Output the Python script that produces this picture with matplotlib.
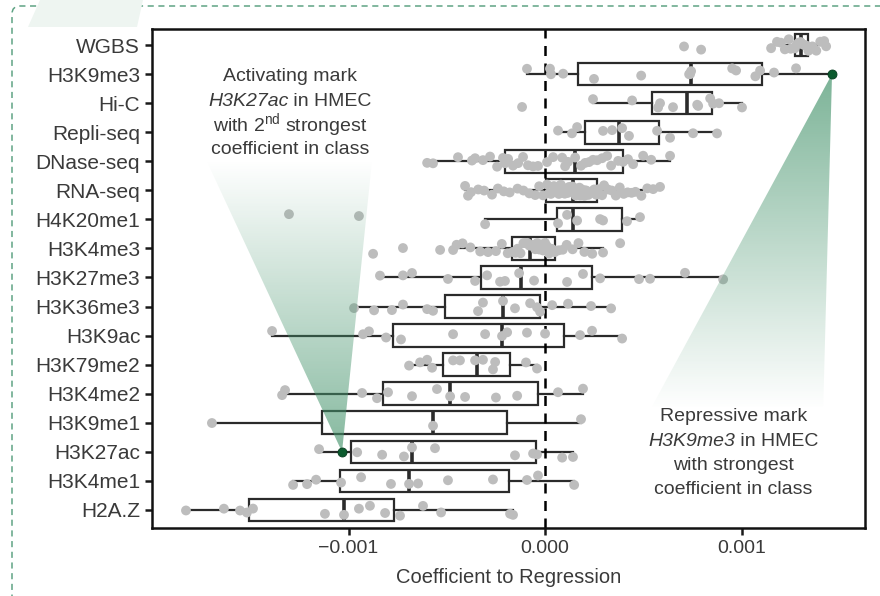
import numpy as np
import matplotlib
matplotlib.use("Agg")
import matplotlib.pyplot as plt
from matplotlib.patches import Polygon, FancyBboxPatch
from matplotlib.offsetbox import TextArea, HPacker, AnnotationBbox

plt.rcParams['font.family'] = ['Liberation Sans', 'DejaVu Sans']
plt.rcParams['mathtext.fontset'] = 'custom'
plt.rcParams['mathtext.rm'] = 'Liberation Sans'
plt.rcParams['mathtext.it'] = 'Liberation Sans:italic'

# categories (top to bottom)
marks = ["WGBS", "H3K9me3", "Hi-C", "Repli-seq", "DNase-seq", "RNA-seq", "H4K20me1",
         "H3K4me3", "H3K27me3", "H3K36me3", "H3K9ac", "H3K79me2", "H3K4me2",
         "H3K9me1", "H3K27ac", "H3K4me1", "H2A.Z"]

# box statistics, in units of 1e-3
whislo = [1.15, -0.092, 0.244, 0.066, -0.600, -0.407, -0.305, -0.468, -0.840, -0.962,
          -1.389, -0.692, -1.333, -1.695, -1.150, -1.282, -1.827]
q1 = [1.272, 0.168, 0.545, 0.204, -0.204, 0.005, 0.061, -0.168, -0.326, -0.509,
      -0.774, -0.519, -0.824, -1.135, -0.987, -1.043, -1.506]
med = [1.303, 0.743, 0.722, 0.377, 0.153, 0.143, 0.143, -0.076, -0.122, -0.214,
       -0.219, -0.346, -0.483, -0.570, -0.677, -0.692, -1.023]
q3 = [1.338, 1.104, 0.850, 0.580, 0.397, 0.265, 0.392, 0.051, 0.239, -0.025,
      0.097, -0.178, -0.036, -0.193, -0.046, -0.183, -0.768]
whishi = [1.43, 1.46, 1.002, 0.875, 0.636, 0.585, 0.483, 0.295, 0.906, 0.336,
          0.392, -0.041, 0.193, 0.183, 0.142, 0.148, -0.163]

# individual points, in units of 1e-3
pts_wgbs = [0.707, 0.794, 1.15, 1.18, 1.20, 1.22, 1.24, 1.25, 1.27, 1.28, 1.29, 1.30, 1.30,
            1.31, 1.32, 1.33, 1.34, 1.35, 1.36, 1.38, 1.40, 1.42, 1.43]
pts_h3k9me3 = [-0.092, 0.025, 0.030, 0.092, 0.249, 0.489, 0.733, 0.738, 0.743, 0.952, 0.972,
               1.07, 1.094, 1.165, 1.277]
pts_hic = [-0.117, 0.244, 0.443, 0.575, 0.585, 0.651, 0.774, 0.779, 0.840, 0.855, 0.885, 1.002]
pts_repli = [0.066, 0.137, 0.163, 0.295, 0.341, 0.392, 0.427, 0.570, 0.636, 0.753, 0.875]
pts_dnase = [-0.600, -0.570, -0.443, -0.372, -0.356, -0.316, -0.280, -0.244, -0.214, -0.204,
             -0.188, -0.163, -0.137, -0.112, -0.087, -0.061, -0.036, 0.010, 0.041, 0.087,
             0.102, 0.117, 0.153, 0.183, 0.204, 0.224, 0.244, 0.265, 0.290, 0.316, 0.336,
             0.372, 0.397, 0.422, 0.448, 0.499, 0.540, 0.636]
pts_rna = [-0.407, -0.392, -0.377, -0.34, -0.31, -0.27, -0.24, -0.21, -0.18, -0.14, -0.11,
           -0.08, -0.05, -0.03, -0.01, 0.01, 0.02, 0.03, 0.045, 0.06, 0.07, 0.08, 0.09, 0.10,
           0.11, 0.115, 0.12, 0.13, 0.135, 0.14, 0.15, 0.155, 0.16, 0.17, 0.175, 0.18, 0.19,
           0.20, 0.205, 0.21, 0.22, 0.23, 0.24, 0.25, 0.26, 0.27, 0.29, 0.30, 0.32, 0.34,
           0.36, 0.38, 0.40, 0.42, 0.44, 0.46, 0.49, 0.52, 0.55, 0.585]
pts_h4k20 = [-1.303, -0.947, -0.305, 0.066, 0.112, 0.163, 0.280, 0.295, 0.417, 0.483]
pts_h3k4me3 = [-0.875, -0.723, -0.534, -0.468, -0.45, -0.42, -0.38, -0.33, -0.29, -0.25,
               -0.22, -0.19, -0.165, -0.15, -0.14, -0.125, -0.11, -0.10, -0.09, -0.08,
               -0.07, -0.06, -0.05, -0.04, -0.03, -0.02, -0.01, 0.0, 0.01, 0.02, 0.035,
               0.05, 0.07, 0.09, 0.11, 0.14, 0.17, 0.20, 0.24, 0.295, 0.382]
pts_h3k27me3 = [-0.840, -0.723, -0.677, -0.494, -0.356, -0.295, -0.229, -0.204, -0.132,
                -0.056, 0.112, 0.193, 0.280, 0.478, 0.534, 0.712, 0.906]
pts_h3k36me3 = [-0.972, -0.870, -0.779, -0.723, -0.600, -0.570, -0.341, -0.316, -0.214,
                -0.153, -0.076, -0.041, -0.025, 0.036, 0.117, 0.234, 0.336]
pts_h3k9ac = [-1.389, -0.926, -0.896, -0.809, -0.733, -0.468, -0.305, -0.219, -0.193,
              -0.092, 0.0, 0.178, 0.239, 0.392]
pts_h3k79me2 = [-0.692, -0.636, -0.600, -0.575, -0.468, -0.433, -0.356, -0.316, -0.265,
                -0.254, -0.097, -0.041]
pts_h3k4me2 = [-1.338, -1.323, -0.931, -0.855, -0.799, -0.677, -0.550, -0.483, -0.407,
               -0.250, -0.142, 0.066, 0.193]
pts_h3k9me1 = [-1.695, -0.570, 0.183]
pts_h3k27ac = [-1.150, -0.956, -0.829, -0.718, -0.677, -0.560, -0.153, -0.061, -0.041,
               0.087, 0.142]
pts_h3k4me1 = [-1.282, -1.211, -1.165, -1.038, -0.936, -0.784, -0.692, -0.646, -0.494,
               -0.265, -0.092, -0.036, 0.148]
pts_h2az = [-1.827, -1.634, -1.552, -1.517, -1.486, -1.120, -1.023, -0.947, -0.891, -0.814,
            -0.738, -0.621, -0.529, -0.178, -0.163]

points = [pts_wgbs, pts_h3k9me3, pts_hic, pts_repli, pts_dnase, pts_rna, pts_h4k20,
          pts_h3k4me3, pts_h3k27me3, pts_h3k36me3, pts_h3k9ac, pts_h3k79me2, pts_h3k4me2,
          pts_h3k9me1, pts_h3k27ac, pts_h3k4me1, pts_h2az]

# highlighted HMEC values (1e-3)
hmec_h3k9me3 = 1.46
hmec_h3k27ac = -1.033

scale = 1e-3
txt_col = "#3a3a3a"

fig = plt.figure(figsize=(8.8, 5.96), dpi=100)
ax = fig.add_axes([0.1727, 0.1141, 0.8103, 0.8372])

stats = []
for i in range(len(marks)):
    stats.append(dict(whislo=whislo[i] * scale, q1=q1[i] * scale, med=med[i] * scale,
                      q3=q3[i] * scale, whishi=whishi[i] * scale, fliers=[]))
pos = np.arange(len(marks))
ax.bxp(stats, positions=pos, vert=False, widths=0.78, showcaps=False, showfliers=False,
       patch_artist=True,
       boxprops=dict(facecolor="none", edgecolor="#2b2b2b", linewidth=1.6),
       whiskerprops=dict(color="#2b2b2b", linewidth=1.6),
       medianprops=dict(color="#2b2b2b", linewidth=2.6), zorder=2)

ax.axvline(0, color="black", linestyle=(0, (4, 3)), linewidth=1.8, zorder=2.5)

rng = np.random.default_rng(7)
for i, vals in enumerate(points):
    v = np.array(vals) * scale
    jit = rng.uniform(-0.2, 0.2, len(v))
    ax.scatter(v, i + jit, s=50, color="#bdbdbd", edgecolors="none", zorder=3)


def gradient_triangle(verts, a_start, a_end):
    poly = Polygon(verts, closed=True, facecolor="none", edgecolor="none")
    ax.add_patch(poly)
    xs = [p[0] for p in verts]
    ys = [p[1] for p in verts]
    img = np.zeros((256, 1, 4))
    img[..., 0] = 0.27
    img[..., 1] = 0.58
    img[..., 2] = 0.42
    img[:, 0, 3] = np.linspace(a_start, a_end, 256)
    im = ax.imshow(img, extent=(min(xs), max(xs), max(ys), min(ys)), aspect="auto",
                   interpolation="bilinear", zorder=4)
    im.set_clip_path(poly)


i27 = marks.index("H3K27ac")
i9 = marks.index("H3K9me3")
gradient_triangle([(-1.724e-3, 3.96), (-0.880e-3, 3.96), (hmec_h3k27ac * scale, i27)], 0.0, 0.65)
gradient_triangle([(hmec_h3k9me3 * scale, i9), (1.415e-3, 12.56), (0.534e-3, 12.56)], 0.7, 0.0)

ax.scatter([hmec_h3k27ac * scale, hmec_h3k9me3 * scale], [i27, i9], s=42,
           color="#0b5a2e", edgecolors="#063d1f", linewidths=0.6, zorder=5)


def text_block(x, y, lines):
    # each line is a list of (text, style) pieces, stacked 24 px apart
    for k, parts in enumerate(lines):
        areas = [TextArea(t, textprops=dict(fontsize=14, color=txt_col, style=st))
                 for t, st in parts]
        row = HPacker(children=areas, align="baseline", pad=0, sep=0)
        ab = AnnotationBbox(row, (x, y), xybox=(0, -24.2 * k), xycoords="data",
                            boxcoords="offset pixels", frameon=False,
                            box_alignment=(0.5, 0.5), zorder=6)
        ax.add_artist(ab)


text_block(-1.298e-3, 1.10, [
    [("Activating mark", "normal")],
    [("H3K27ac", "italic"), (" in HMEC", "normal")],
    [("with 2$^{\\mathrm{nd}}$ strongest", "normal")],
    [("coefficient in class", "normal")],
])
text_block(0.957e-3, 12.80, [
    [("Repressive mark", "normal")],
    [("H3K9me3", "italic"), (" in HMEC", "normal")],
    [("with strongest", "normal")],
    [("coefficient in class", "normal")],
])

ax.set_xlim(-0.002, 0.001628)
ax.set_ylim(16.62, -0.55)
ax.set_yticks(pos)
ax.set_yticklabels(marks)
ax.set_xticks([-0.001, 0.0, 0.001])
ax.set_xticklabels(["\u22120.001", "0.000", "0.001"])
ax.tick_params(axis="both", labelsize=14, labelcolor=txt_col, length=5, width=1.8,
               color="#1a1a1a")
ax.tick_params(axis="y", labelsize=15)
ax.set_xlabel("Coefficient to Regression", fontsize=14.5, color=txt_col, labelpad=8)
for s in ax.spines.values():
    s.set_linewidth(1.8)
    s.set_color("#111111")

# dashed panel frame and the faint shape from the neighbouring panel
frame = FancyBboxPatch((0.12, -0.5), 9.5, 6.4, boxstyle="round,pad=0,rounding_size=0.08",
                       transform=fig.dpi_scale_trans, facecolor="none", edgecolor="#5fa384",
                       linewidth=1.1, linestyle=(0, (4, 3)))
fig.add_artist(frame)
shape = Polygon([(0.40, 5.96), (1.43, 5.96), (1.37, 5.69), (0.28, 5.69)], closed=True,
                transform=fig.dpi_scale_trans, facecolor="#eef5f1", edgecolor="none")
fig.add_artist(shape)

fig.savefig("out.png", dpi=100)
